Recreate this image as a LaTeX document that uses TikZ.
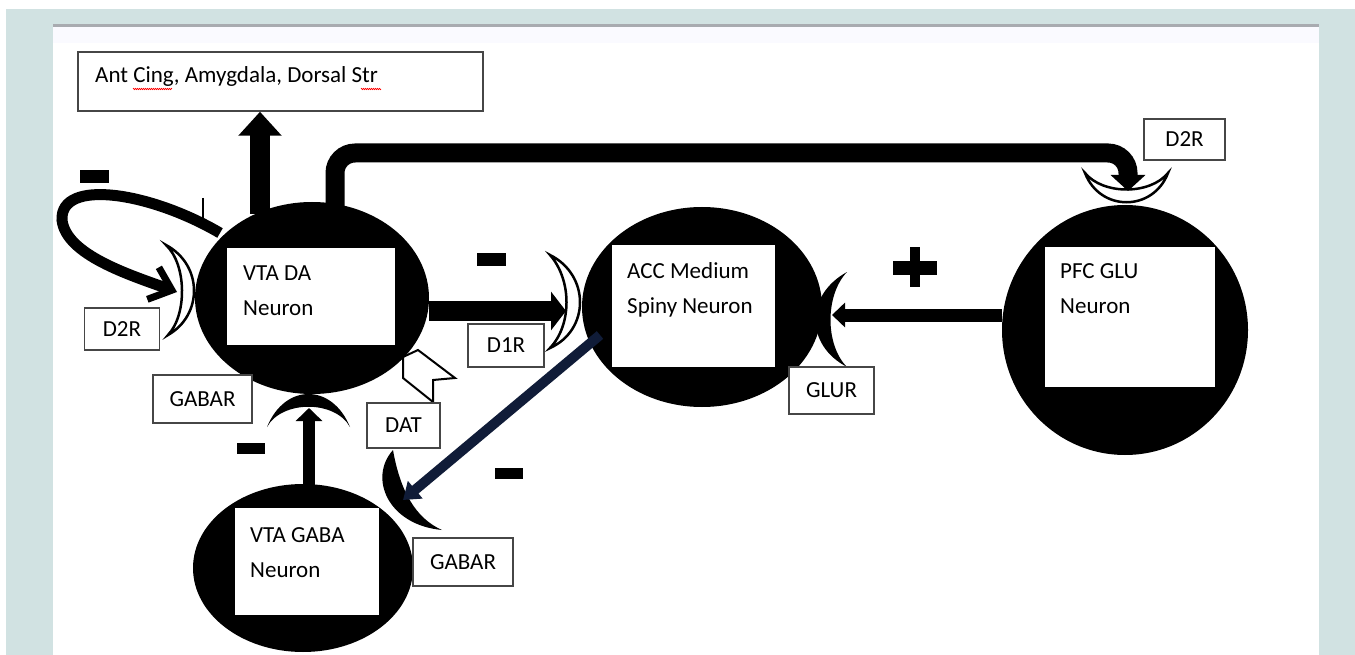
\documentclass[tikz,border=0pt]{standalone}
\usepackage{fontspec}
\setmainfont{Carlito}
\usetikzlibrary{arrows.meta,shapes.geometric,decorations.pathmorphing}
\definecolor{panelteal}{RGB}{209,226,226}
\definecolor{rulegray}{RGB}{168,171,176}
\definecolor{tagline}{RGB}{70,70,70}
\definecolor{darknavy}{RGB}{16,28,56}
\tikzset{
  neuron/.style={
    shape = ellipse,
    fill = black,
    inner sep = 0
  },
  cellbox/.style={
    fill = white,
    anchor = north west,
    inner sep = 0
  },
  celltext/.style={
    anchor = base west,
    align = left,
    inner sep = 0
  },
  tag/.style={
    draw = tagline,
    line width = 1.5pt,
    fill = white,
    inner sep = 0
  },
  sign/.style={
    fill = black,
    inner sep = 0
  },
  whitecup/.style={
    fill = white,
    draw = black,
    line width = 2.5pt
  },
  blackcup/.style={
    fill = black
  },
  squiggle/.style={
    red,
    line width = 0.6pt,
    decorate,
    decoration = {zigzag, segment length=2pt, amplitude=0.7pt}
  },
  every picture/.style = {
    font=\fontsize{23}{35}\selectfont
  }
}

\begin{document}
\begin{tikzpicture}[x=1pt,y=-1pt]
  \useasboundingbox (0,0) rectangle (1355,655);
  \fill[panelteal] (6,9) rectangle (1355,655);
  \fill[white] (53,27) rectangle (1319,655);
  \fill[rulegray] (53,24) rectangle (1319,27);
  \fill[blue!2] (53,27) rectangle (1319,43);

  % neurons
  \node[neuron, minimum width=234pt, minimum height=192pt] (vtada) at (312,298) {};
  \node[neuron, minimum width=240pt, minimum height=200pt] (accmsn) at (702,307) {};
  \node[neuron, minimum width=246pt, minimum height=250pt] (pfcglu) at (1125,330) {};
  \node[neuron, minimum width=220pt, minimum height=168pt] (vtagaba) at (303,568) {};

  \node[cellbox, minimum width=168pt, minimum height=97pt] (dabox) at (227,248) {};
  \node[cellbox, minimum width=163pt, minimum height=122pt] (accbox) at (612,245) {};
  \node[cellbox, minimum width=170pt, minimum height=140pt] (pfcbox) at (1045,247) {};
  \node[cellbox, minimum width=144pt, minimum height=107pt] (gababox) at (235,508) {};

  % base of the last line
  \node[celltext] (datext) at (243,315) {VTA DA\\Neuron};
  \node[celltext] (acctext) at (627,313) {ACC Medium\\Spiny Neuron};
  \node[celltext] (pfctext) at (1060,313) {PFC GLU\\Neuron};
  \node[celltext] (gabatext) at (250,577) {VTA GABA\\Neuron};

  % target box
  \node[tag, minimum width=405pt, minimum height=59pt] (antcing) at (280.5,81.5) {};
  \node[celltext] (anttext) at (95,83) {Ant Cing, Amygdala, Dorsal Str};
  \draw[squiggle] (133,89) -- (172,89);
  \draw[squiggle] (361,89) -- (381,89);

  % receptors
  \draw[whitecup] (166,245) .. controls (203,265) and (203,315) .. (168,335)
    .. controls (187,315) and (187,265) .. (166,245) -- cycle;
  \draw[whitecup] (550,255) .. controls (590,275) and (590,330) .. (550,348)
    .. controls (572,325) and (572,280) .. (550,255) -- cycle;
  \draw[whitecup] (1085,173) .. controls (1100,212) and (1153,212) .. (1168,173)
    .. controls (1150,195) and (1103,195) .. (1085,173) -- cycle;
  \fill[blackcup] (847,272) .. controls (805,295) and (805,345) .. (847,367)
    .. controls (825,345) and (825,295) .. (847,272) -- cycle;
  \fill[blackcup] (267,427) .. controls (285,383) and (332,383) .. (350,427)
    .. controls (335,400) and (282,400) .. (267,427) -- cycle;
  \fill[blackcup] (393,450) .. controls (368,478) and (388,525) .. (442,530)
    .. controls (415,518) and (400,490) .. (393,450) -- cycle;
  \draw[whitecup, line width=2pt] (403,357) -- (418,350) -- (455,378) -- (433,380)
    -- (433,402) -- (403,378) -- cycle;

  % connections
  \coordinate (antup) at (260,214);
  \draw[line width=20pt, -{Triangle[length=24pt,width=42pt]}] (antup) -- (antup |- antcing.south);

  \coordinate (pfcup) at (335,214);
  \coordinate (pfccup) at (1128,191);
  \draw[line width=19pt, rounded corners=20pt, -{Triangle[length=16pt,width=34pt]}]
    (pfcup) |- ([yshift=38pt]pfccup) -- (pfccup);

  \coordinate (loopout) at (220,233);
  \coordinate (d2rin) at (177,292);
  \draw[line width=11pt, -{Straight Barb[length=20pt,width=34pt,line width=7pt]}]
    (loopout) .. controls (150,192) and (60,178) .. (62,220)
    .. controls (66,255) and (130,275) .. (d2rin);
  \draw[line width=2pt] (203,198) -- (203,228);

  \coordinate (d1rtip) at (566,311);
  \draw[line width=20pt, -{Triangle[length=15pt,width=38pt]}] (vtada.east |- d1rtip) -- (d1rtip);

  \coordinate (glurtip) at (832,315);
  \draw[line width=13pt, -{Triangle[length=13pt,width=24pt]}] (pfcglu.west |- glurtip) -- (glurtip);

  \coordinate (gabaup) at (309,490);
  \coordinate (gabartip) at (309,408);
  \draw[line width=12pt, -{Triangle[length=13pt,width=26pt]}] (gabaup) -- (gabartip);

  \coordinate (accout) at (600,335);
  \coordinate (gabain) at (403,500);
  \draw[darknavy, line width=10pt, -{Triangle[length=16pt,width=22pt]}] (accout) -- (gabain);

  % signs
  \foreach \sx/\sy/\sw/\sh [count=\i] in {94/177/29/13, 491/260/29/13, 251/448/28/11, 509/473/28/11}
    \node[sign, minimum width=\sw pt, minimum height=\sh pt] (minus\i) at (\sx,\sy) {};
  \node[sign, minimum width=44pt, minimum height=13pt] (plush) at (915,268) {};
  \node[sign, minimum width=10pt, minimum height=39pt] (plusv) at (915,267) {};

  % receptor labels
  \node[tag, minimum width=75pt, minimum height=42pt] (d2rleft) at (122,329) {D2R};
  \node[tag, minimum width=99pt, minimum height=48pt] (gabarleft) at (202.5,399) {GABAR};
  \node[tag, minimum width=73pt, minimum height=45pt] (dat) at (403.5,425.5) {DAT};
  \node[tag, minimum width=100pt, minimum height=48pt] (gabarright) at (463,562) {GABAR};
  \node[tag, minimum width=76pt, minimum height=43pt] (d1r) at (506,345.5) {D1R};
  \node[tag, minimum width=85pt, minimum height=47pt] (glur) at (831.5,390.5) {GLUR};
  \node[tag, minimum width=81pt, minimum height=41pt] (d2rtop) at (1184.5,139.5) {D2R};
\end{tikzpicture}
\end{document}
